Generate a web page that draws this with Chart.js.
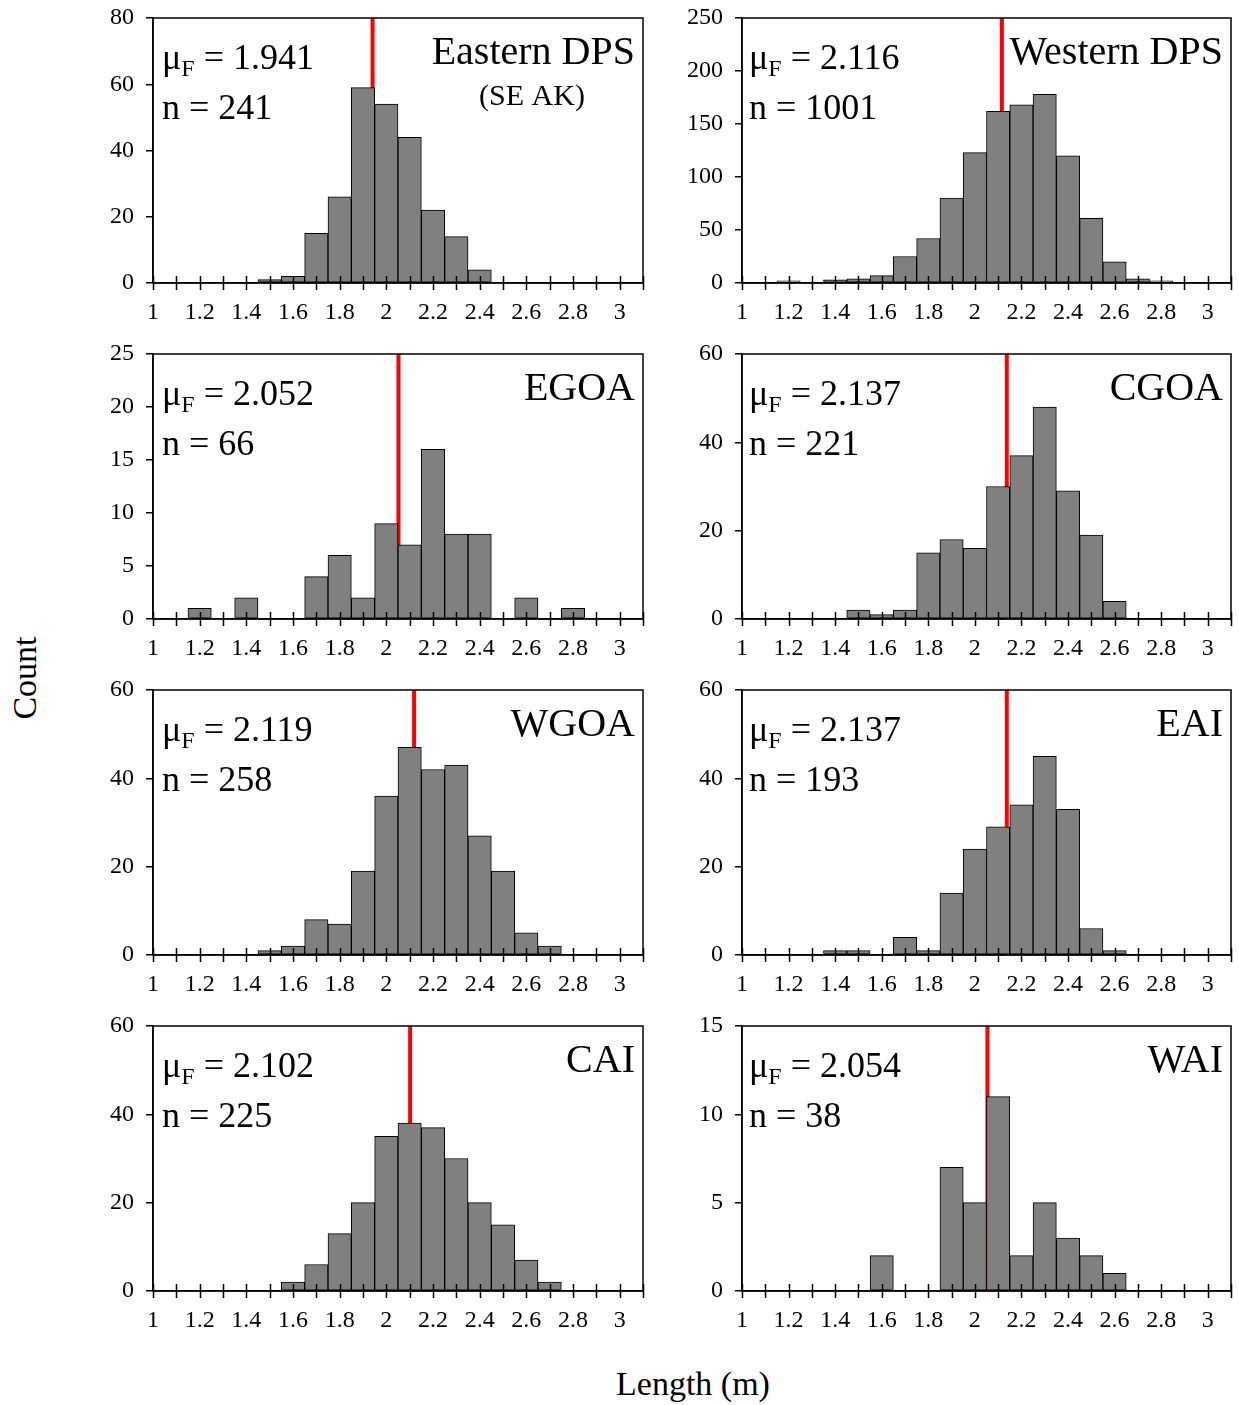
<!DOCTYPE html>
<html>
<head>
<meta charset="utf-8">
<script src="https://cdn.jsdelivr.net/npm/chart.js@4.4.0/dist/chart.umd.min.js"></script>
<style>
  body { margin: 0; background: #fff; }
  #wrap { position: relative; width: 1239px; height: 1405px; font-family: "Liberation Serif", "Times New Roman", serif; }
  canvas { position: absolute; }
  .lab { position: absolute; font-size: 34px; color: #000; white-space: nowrap; transform: translate(-50%, -50%); }
  #ylab { left: 25px; top: 678px; transform: translate(-50%, -50%) rotate(-90deg); }
  #xlab { left: 693px; top: 1384px; }
</style>
</head>
<body>
<div id="wrap">
  <div class="lab" id="ylab">Count</div>
  <div class="lab" id="xlab">Length (m)</div>
</div>
<script>
// bin centres (m)
const bins = [1.0, 1.1, 1.2, 1.3, 1.4, 1.5, 1.6, 1.7, 1.8, 1.9, 2.0,
              2.1, 2.2, 2.3, 2.4, 2.5, 2.6, 2.7, 2.8, 2.9, 3.0];

const easternDPS = [0, 0, 0, 0, 0, 1, 2, 15, 26, 59, 54, 44, 22, 14, 4, 0, 0, 0, 0, 0, 0];
const westernDPS = [0, 0, 2, 0, 3, 4, 7, 25, 42, 80, 123, 162, 168, 178, 120, 61, 20, 4, 2, 0, 0];
const egoa = [0, 0, 1, 0, 2, 0, 0, 4, 6, 2, 9, 7, 16, 8, 8, 0, 2, 0, 1, 0, 0];
const cgoa = [0, 0, 0, 0, 0, 2, 1, 2, 15, 18, 16, 30, 37, 48, 29, 19, 4, 0, 0, 0, 0];
const wgoa = [0, 0, 0, 0, 0, 1, 2, 8, 7, 19, 36, 47, 42, 43, 27, 19, 5, 2, 0, 0, 0];
const eai = [0, 0, 0, 0, 1, 1, 0, 4, 1, 14, 24, 29, 34, 45, 33, 6, 1, 0, 0, 0, 0];
const cai = [0, 0, 0, 0, 0, 0, 2, 6, 13, 20, 35, 38, 37, 30, 20, 15, 7, 2, 0, 0, 0];
const wai = [0, 0, 0, 0, 0, 0, 2, 0, 0, 7, 5, 11, 2, 5, 3, 2, 1, 0, 0, 0, 0];

const regions = ["Eastern DPS", "Western DPS", "EGOA", "CGOA", "WGOA", "EAI", "CAI", "WAI"];
const counts = [easternDPS, westernDPS, egoa, cgoa, wgoa, eai, cai, wai];
const means = ["1.941", "2.116", "2.052", "2.137", "2.119", "2.137", "2.102", "2.054"];
const sizes = ["241", "1001", "66", "221", "258", "193", "225", "38"];
const yMax = [80, 250, 25, 60, 60, 60, 60, 15];
const yStep = [20, 50, 5, 20, 20, 20, 20, 5];

const SERIF = '"Liberation Serif", "Times New Roman", serif';
const wrap = document.getElementById("wrap");

function panelPlugin(i) {
  return {
    id: "panel" + i,
    afterDraw(chart) {
      const ctx = chart.ctx;
      const a = chart.chartArea;
      const xs = chart.scales.x;
      ctx.save();
      ctx.strokeStyle = "#000";
      ctx.lineWidth = 1.5;
      ctx.strokeRect(a.left, a.top, a.right - a.left, a.bottom - a.top);
      // tick marks crossing the x axis
      ctx.beginPath();
      xs.ticks.forEach(t => {
        const px = Math.round(xs.getPixelForValue(t.value)) + 0.5;
        ctx.moveTo(px, a.bottom - 7);
        ctx.lineTo(px, a.bottom + 7);
      });
      ctx.stroke();

      ctx.fillStyle = "#000";
      ctx.textBaseline = "alphabetic";
      const lx = a.left + (i % 2 === 0 ? 9 : 7);
      ctx.font = "36px " + SERIF;
      ctx.textAlign = "left";
      ctx.fillText("\u03bc", lx, a.top + 51);
      let w = ctx.measureText("\u03bc").width;
      ctx.font = "24px " + SERIF;
      ctx.fillText("F", lx + w, a.top + 58);
      w += ctx.measureText("F").width;
      ctx.font = "36px " + SERIF;
      ctx.fillText(" = " + means[i], lx + w, a.top + 51);
      ctx.fillText("n = " + sizes[i], lx, a.top + 101);

      ctx.font = "40px " + SERIF;
      ctx.textAlign = "right";
      ctx.fillText(regions[i], a.right - 8, a.top + 46);
      if (i === 0) {
        ctx.font = "30px " + SERIF;
        ctx.textAlign = "center";
        ctx.fillText("(SE AK)", 532 - 80, a.top + 87);
      }
      ctx.restore();
    }
  };
}

regions.forEach((name, i) => {
  const col = i % 2, row = Math.floor(i / 2);
  const cv = document.createElement("canvas");
  const left = col === 0 ? 80 : 670;
  const width = col === 0 ? 580 : 569;
  cv.width = width;
  cv.height = 330;
  cv.style.left = left + "px";
  cv.style.top = (row * 336) + "px";
  wrap.appendChild(cv);

  new Chart(cv, {
    type: "bar",
    data: {
      datasets: [
        {
          label: name,
          data: bins.map((b, k) => ({ x: b, y: counts[i][k] })),
          backgroundColor: "#808080",
          borderColor: "#000",
          borderWidth: 1,
          borderSkipped: false,
          barPercentage: 1,
          categoryPercentage: 1,
          order: 0
        },
        {
          type: "line",
          label: "mean",
          data: [{ x: parseFloat(means[i]), y: 0 }, { x: parseFloat(means[i]), y: yMax[i] }],
          borderColor: "#ff0000",
          borderWidth: 4,
          pointRadius: 0,
          order: 1
        }
      ]
    },
    options: {
      responsive: false,
      animation: false,
      devicePixelRatio: 1,
      layout: { padding: { top: 18, right: col === 0 ? 17 : 8, left: 0, bottom: 0 } },
      plugins: { legend: { display: false }, tooltip: { enabled: false } },
      scales: {
        x: {
          type: "linear",
          min: 1,
          max: 3.1,
          offset: false,
          afterFit: s => { s.height = 47; s.paddingLeft = 0; s.paddingRight = 0; },
          grid: { display: false, drawTicks: false },
          border: { display: true, color: "#000", width: 1.5 },
          ticks: {
            stepSize: 0.1,
            autoSkip: false,
            maxRotation: 0,
            minRotation: 0,
            padding: 15,
            color: "#000",
            font: { family: SERIF, size: 24 },
            callback: v => {
              const k = Math.round(v * 10);
              return (k % 2 === 0 && k <= 30) ? String(k / 10) : "";
            }
          }
        },
        y: {
          min: 0,
          max: yMax[i],
          afterFit: s => { s.width = col === 0 ? 73 : 72; s.paddingTop = 0; s.paddingBottom = 0; },
          grid: { drawOnChartArea: false, drawTicks: true, tickLength: 7, color: "#000", lineWidth: 1.5 },
          border: { display: true, color: "#000", width: 1.5 },
          ticks: {
            stepSize: yStep[i],
            padding: 12,
            color: "#000",
            font: { family: SERIF, size: 24 }
          }
        }
      }
    },
    plugins: [panelPlugin(i)]
  });
});
</script>
</body>
</html>
